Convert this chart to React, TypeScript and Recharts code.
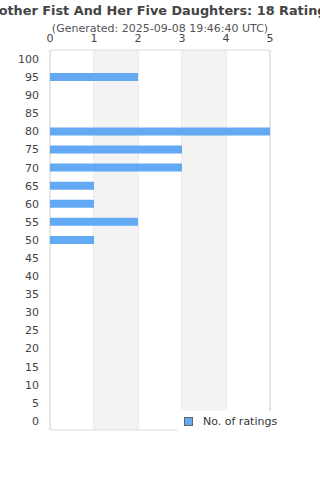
import React from 'react'
import { BarChart, Bar, XAxis, YAxis, CartesianGrid, ReferenceArea } from 'recharts'

const scores = ['100', '95', '90', '85', '80', '75', '70', '65', '60', '55', '50', '45', '40', '35', '30', '25', '20', '15', '10', '5', '0']
const counts = [0, 2, 0, 0, 5, 3, 3, 1, 1, 2, 1, 0, 0, 0, 0, 0, 0, 0, 0, 0, 0]
const xTicks = [0, 1, 2, 3, 4, 5]
const shadedBands = [[1, 2], [3, 4]]

const title = 'Mother Fist And Her Five Daughters: 18 Ratings'
const subtitle = '(Generated: 2025-09-08 19:46:40 UTC)'

const data = scores.map((s, i) => ({ score: s, count: counts[i] }))

const font = '"DejaVu Sans", sans-serif'

const App = () => {
  return (
    <div style={{ position: 'absolute', left: 0, top: 0, width: 320, height: 480, background: '#fff', fontFamily: font, overflow: 'hidden' }}>
      <BarChart
        layout="vertical"
        width={320}
        height={480}
        data={data}
        margin={{ top: 20, right: 50, bottom: 50, left: 0 }}
      >
        {shadedBands.map(([a, b]) => (
          <ReferenceArea key={a} x1={a} x2={b} fill="#f3f3f3" fillOpacity={1} stroke="none" ifOverflow="visible" />
        ))}
        <CartesianGrid horizontal={false} stroke="#dddddd" strokeDasharray="" />
        <ReferenceArea x1={0} x2={5} fill="none" stroke="#dddddd" ifOverflow="visible" />
        <XAxis
          type="number"
          orientation="top"
          domain={[0, 5]}
          ticks={xTicks}
          height={30}
          axisLine={false}
          tickLine={false}
          tick={{ fill: '#444', fontSize: 11, fontFamily: font }}
        />
        <YAxis
          type="category"
          dataKey="score"
          width={50}
          axisLine={false}
          tickLine={false}
          tickMargin={5}
          interval={0}
          tick={{ fill: '#444', fontSize: 11, fontFamily: font }}
        />
        <Bar dataKey="count" fill="#63a9f3" barSize={8} isAnimationActive={false} />
      </BarChart>
      <div style={{ position: 'absolute', left: 160, top: 3, transform: 'translateX(-50%)', whiteSpace: 'nowrap', fontWeight: 'bold', fontSize: 12.85, color: '#444' }}>
        {title}
      </div>
      <div style={{ position: 'absolute', left: 160, top: 22, transform: 'translateX(-50%)', whiteSpace: 'nowrap', fontSize: 11, color: '#555' }}>
        {subtitle}
      </div>
      <div style={{ position: 'absolute', left: 178, top: 411, width: 112, height: 21, background: '#fff', display: 'flex', alignItems: 'center', fontSize: 11, color: '#333' }}>
        <span style={{ display: 'inline-block', width: 7, height: 7, background: '#63a9f3', border: '1px solid #666', marginLeft: 6, marginRight: 10 }} />
        No. of ratings
      </div>
    </div>
  )
}

export default App
